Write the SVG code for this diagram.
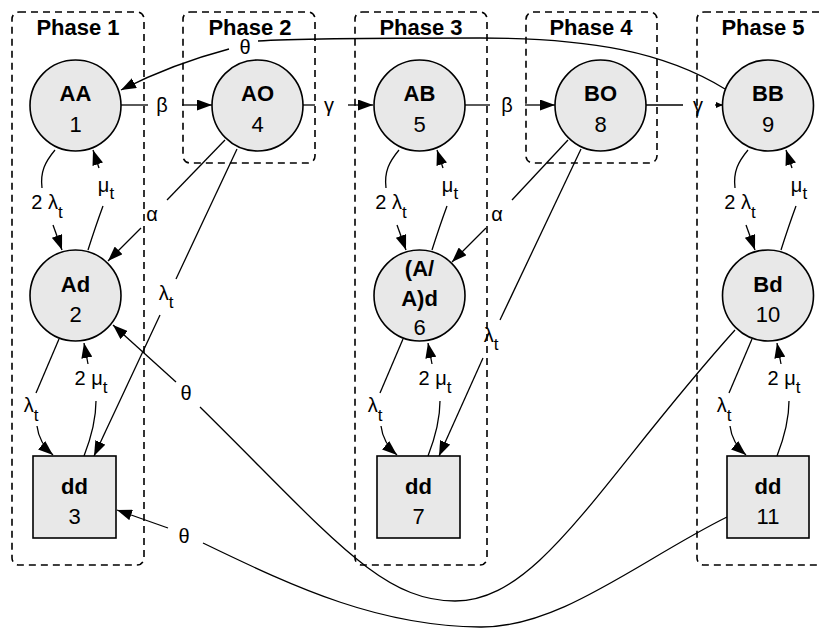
<svg xmlns="http://www.w3.org/2000/svg" width="820" height="628" viewBox="0 0 820 628">
  <style>
    .box { fill: none; stroke: #000; stroke-width: 1.6; stroke-dasharray: 7 5; }
    .node { fill: #e8e8e8; stroke: #000; stroke-width: 1.6; }
    .edge { fill: none; stroke: #000; stroke-width: 1.3; }
    .ph { font-family: "Liberation Sans", Arial, sans-serif; font-size: 22px; font-weight: bold; text-anchor: middle; }
    .nm { font-family: "Liberation Sans", Arial, sans-serif; font-size: 22px; font-weight: bold; text-anchor: middle; }
    .num { font-family: "Liberation Sans", Arial, sans-serif; font-size: 22px; text-anchor: middle; }
    .lbl { font-family: "Liberation Sans", Arial, sans-serif; font-size: 20px; text-anchor: middle; }
    .sub { font-size: 17px; }
  </style>
  <defs>
    <marker id="arr" viewBox="0 0 15 11" refX="15" refY="5.5" markerWidth="15" markerHeight="11" markerUnits="userSpaceOnUse" orient="auto">
      <path d="M0,0 L15,5.5 L0,11 z" fill="#000"/>
    </marker>
    <marker id="arrSmall" viewBox="0 0 7 6" refX="7" refY="3" markerWidth="7" markerHeight="6" markerUnits="userSpaceOnUse" orient="auto">
      <path d="M0,0 L7,3 L0,6 z" fill="#000"/>
    </marker>
  </defs>

  <!-- phase groupings -->
  <g id="phases">
    <rect class="box" x="12" y="12" width="132" height="553" rx="7"/>
    <rect class="box" x="183" y="12" width="132" height="151" rx="7"/>
    <rect class="box" x="355" y="12" width="132" height="553" rx="7"/>
    <rect class="box" x="526" y="12" width="131" height="151" rx="7"/>
    <rect class="box" x="697" y="12" width="132" height="553" rx="7"/>
    <text class="ph" x="78" y="35">Phase 1</text>
    <text class="ph" x="250" y="35">Phase 2</text>
    <text class="ph" x="421" y="35">Phase 3</text>
    <text class="ph" x="591" y="35">Phase 4</text>
    <text class="ph" x="763" y="35">Phase 5</text>
  </g>

  <!-- transitions -->
  <g id="connectors">
    <!-- horizontal chain -->
    <path class="edge" d="M121,105 L148,105"/>
    <path class="edge" d="M182,105 L212,105" marker-end="url(#arr)"/>
    <path class="edge" d="M303,105 L315,105"/>
    <path class="edge" d="M348,105 L373,105" marker-end="url(#arr)"/>
    <path class="edge" d="M465,105 L490,105"/>
    <path class="edge" d="M525,105 L555,105" marker-end="url(#arr)"/>
    <path class="edge" d="M646,105 L683,105"/>
    <path class="edge" d="M715,105 L723,105" marker-end="url(#arrSmall)"/>
    <text class="lbl" x="162" y="112">β</text>
    <text class="lbl" x="329" y="112">γ</text>
    <text class="lbl" x="507" y="112">β</text>
    <text class="lbl" x="698" y="112">γ</text>

    <!-- BB back to AA -->
    <path class="edge" d="M725,89 C665,52 590,38 480,38 C380,38 300,38 258,41"/>
    <path class="edge" d="M229,49 Q172,64 121,90" marker-end="url(#arr)"/>
    <text class="lbl" x="245" y="54">θ</text>

    <!-- phase 1 column -->
    <path class="edge" d="M55,150 C45,162 40,172 42,188"/>
    <path class="edge" d="M53,225 L62,250" marker-end="url(#arr)"/>
    <text class="lbl" x="47" y="209">2 λ<tspan class="sub" dy="9">t</tspan></text>

    <path class="edge" d="M88,250 Q96,225 103,206"/>
    <path class="edge" d="M99,168 L93,150" marker-end="url(#arr)"/>
    <text class="lbl" x="106" y="192">μ<tspan class="sub" dy="7">t</tspan></text>

    <path class="edge" d="M59,339 L36,393"/>
    <path class="edge" d="M37,426 Q39,443 53,455" marker-end="url(#arr)"/>
    <text class="lbl" x="31" y="412">λ<tspan class="sub" dy="9">t</tspan></text>

    <path class="edge" d="M84,456 Q96,425 96,401"/>
    <path class="edge" d="M88,364 L84,343" marker-end="url(#arr)"/>
    <text class="lbl" x="91" y="385">2 μ<tspan class="sub" dy="8">t</tspan></text>

    <!-- AO down into phase 1 -->
    <path class="edge" d="M225,140 L167,200"/>
    <path class="edge" d="M141,228 L108,261" marker-end="url(#arr)"/>
    <text class="lbl" x="152" y="221">α</text>

    <path class="edge" d="M237,149 L176,279"/>
    <path class="edge" d="M160,315 L94,456" marker-end="url(#arr)"/>
    <text class="lbl" x="166" y="300">λ<tspan class="sub" dy="8">t</tspan></text>

    <!-- phase 3 column -->
    <path class="edge" d="M399,150 C389,162 384,172 386,188"/>
    <path class="edge" d="M397,225 L406,250" marker-end="url(#arr)"/>
    <text class="lbl" x="391" y="209">2 λ<tspan class="sub" dy="9">t</tspan></text>

    <path class="edge" d="M432,250 Q440,225 447,206"/>
    <path class="edge" d="M443,168 L437,150" marker-end="url(#arr)"/>
    <text class="lbl" x="450" y="192">μ<tspan class="sub" dy="7">t</tspan></text>

    <path class="edge" d="M403,339 L380,393"/>
    <path class="edge" d="M381,426 Q383,443 397,455" marker-end="url(#arr)"/>
    <text class="lbl" x="375" y="412">λ<tspan class="sub" dy="9">t</tspan></text>

    <path class="edge" d="M428,456 Q440,425 440,401"/>
    <path class="edge" d="M432,364 L428,343" marker-end="url(#arr)"/>
    <text class="lbl" x="435" y="385">2 μ<tspan class="sub" dy="8">t</tspan></text>

    <!-- BO down into phase 3 -->
    <path class="edge" d="M568,140 L512,200"/>
    <path class="edge" d="M486,228 L452,262" marker-end="url(#arr)"/>
    <text class="lbl" x="497" y="221">α</text>

    <path class="edge" d="M581,149 L500,320"/>
    <path class="edge" d="M483,358 L439,456" marker-end="url(#arr)"/>
    <text class="lbl" x="491" y="342">λ<tspan class="sub" dy="8">t</tspan></text>

    <!-- phase 5 column -->
    <path class="edge" d="M748,150 C738,162 733,172 735,188"/>
    <path class="edge" d="M746,225 L755,250" marker-end="url(#arr)"/>
    <text class="lbl" x="740" y="209">2 λ<tspan class="sub" dy="9">t</tspan></text>

    <path class="edge" d="M781,250 Q789,225 796,206"/>
    <path class="edge" d="M792,168 L786,150" marker-end="url(#arr)"/>
    <text class="lbl" x="799" y="192">μ<tspan class="sub" dy="7">t</tspan></text>

    <path class="edge" d="M752,339 L729,393"/>
    <path class="edge" d="M730,426 Q732,443 746,455" marker-end="url(#arr)"/>
    <text class="lbl" x="724" y="412">λ<tspan class="sub" dy="9">t</tspan></text>

    <path class="edge" d="M777,456 Q789,425 789,401"/>
    <path class="edge" d="M781,364 L777,343" marker-end="url(#arr)"/>
    <text class="lbl" x="784" y="385">2 μ<tspan class="sub" dy="8">t</tspan></text>

    <!-- Bd back to Ad -->
    <path class="edge" d="M735,330 C600,480 540,601 455,601 C380,601 330,535 200,407"/>
    <path class="edge" d="M176,382 L113,325" marker-end="url(#arr)"/>
    <text class="lbl" x="186" y="400">θ</text>

    <!-- dd 11 back to dd 3 -->
    <path class="edge" d="M727,517 C640,560 560,628 480,627 C380,626 300,590 203,543"/>
    <path class="edge" d="M168,528 L117,510" marker-end="url(#arr)"/>
    <text class="lbl" x="184" y="543">θ</text>
  </g>

  <!-- states -->
  <g id="n1"><circle class="node" cx="75.5" cy="105.5" r="45.5"/><text class="nm" x="75.5" y="101">AA</text><text class="num" x="75.5" y="132">1</text></g>
  <g id="n2"><circle class="node" cx="75.5" cy="295.5" r="45.5"/><text class="nm" x="75.5" y="292">Ad</text><text class="num" x="75.5" y="322">2</text></g>
  <g id="n3"><rect class="node" x="33" y="456" width="83" height="82"/><text class="nm" x="74.5" y="494">dd</text><text class="num" x="74.5" y="524">3</text></g>
  <g id="n4"><circle class="node" cx="257.5" cy="105.5" r="45.5"/><text class="nm" x="257.5" y="101">AO</text><text class="num" x="257.5" y="132">4</text></g>
  <g id="n5"><circle class="node" cx="419.5" cy="105.5" r="45.5"/><text class="nm" x="419.5" y="101">AB</text><text class="num" x="419.5" y="132">5</text></g>
  <g id="n6"><circle class="node" cx="419.5" cy="295.5" r="45.5"/><text class="nm" x="419.5" y="276">(A/</text><text class="nm" x="419.5" y="306">A)d</text><text class="num" x="419.5" y="335">6</text></g>
  <g id="n7"><rect class="node" x="377" y="456" width="83" height="82"/><text class="nm" x="418.5" y="494">dd</text><text class="num" x="418.5" y="524">7</text></g>
  <g id="n8"><circle class="node" cx="600.5" cy="105.5" r="45.5"/><text class="nm" x="600.5" y="101">BO</text><text class="num" x="600.5" y="132">8</text></g>
  <g id="n9"><circle class="node" cx="768" cy="105.5" r="45.5"/><text class="nm" x="768" y="101">BB</text><text class="num" x="768" y="132">9</text></g>
  <g id="n10"><circle class="node" cx="768" cy="295.5" r="45.5"/><text class="nm" x="768" y="292">Bd</text><text class="num" x="768" y="322">10</text></g>
  <g id="n11"><rect class="node" x="727" y="456" width="82" height="82"/><text class="nm" x="768" y="494">dd</text><text class="num" x="768" y="524">11</text></g>
</svg>
